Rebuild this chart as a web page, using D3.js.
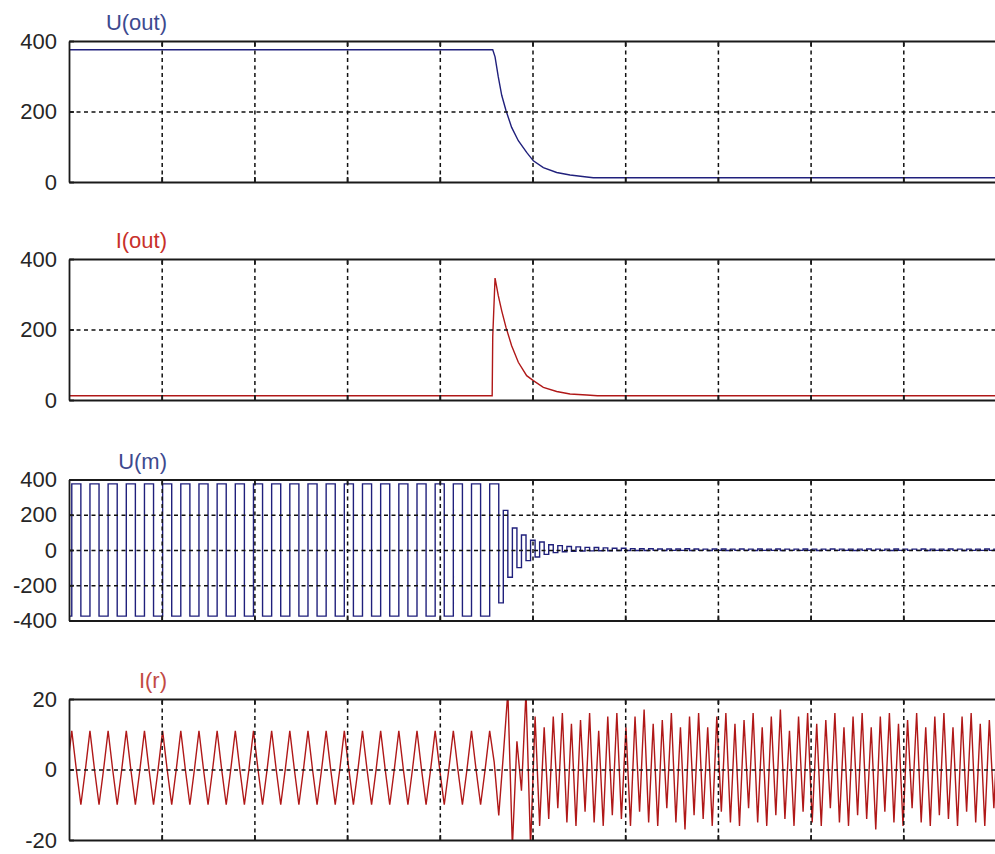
<!DOCTYPE html>
<html>
<head>
<meta charset="utf-8">
<script src="https://cdn.jsdelivr.net/npm/d3@7"></script>
<style>
  body { margin: 0; background: #fff; }
  svg { display: block; }
</style>
</head>
<body>
<script>
let width = 995
let height = 854
let left = 69
let right = 996
const panelTops = [41, 259, 479.5, 699]
const panelHeight = 141

const blue = '#20207c'
const red = '#b01818'

// scope traces, time axis in grid divisions (0..10)
const titles = ['U(out)', 'I(out)', 'U(m)', 'I(r)']
const xGrid = [1, 2, 3, 4, 5, 6, 7, 8, 9]

const uoutTicks = [0, 200, 400]
const ioutTicks = [0, 200, 400]
const umTicks = [-400, -200, 0, 200, 400]
const irTicks = [-20, 0, 20]

const uoutTime = [0, 4.571, 4.596, 4.631, 4.668, 4.714, 4.775, 4.847, 4.937, 5.009, 5.117, 5.261, 5.405, 5.585, 5.656, 10]
const uoutValue = [375, 375, 355, 298, 246, 203, 155, 117, 84, 60, 41, 27, 20, 14, 12, 12]

const ioutTime = [0, 4.565, 4.571, 4.596, 4.631, 4.668, 4.714, 4.775, 4.847, 4.937, 5.009, 5.117, 5.261, 5.405, 5.585, 5.7, 10]
const ioutValue = [12, 12, 179, 346, 296, 253, 206, 154, 107, 69, 55, 36, 24, 17, 14, 12, 12]

// U(m) and I(r) are sampled at a fixed step
const sampleStart = -0.019
const sampleStep = 0.049

const umValues = [
  -375, 375, 375, -375, -375, 375, 375, -375,
  -375, 375, 375, -375, -375, 375, 375, -375,
  -375, 375, 375, -375, -375, 375, 375, -375,
  -375, 375, 375, -375, -375, 375, 375, -375,
  -375, 375, 375, -375, -375, 375, 375, -375,
  -375, 375, 375, -375, -375, 375, 375, -375,
  -375, 375, 375, -375, -375, 375, 375, -375,
  -375, 375, 375, -375, -375, 375, 375, -375,
  -375, 375, 375, -375, -375, 375, 375, -375,
  -375, 375, 375, -375, -375, 375, 375, -375,
  -375, 375, 375, -375, -375, 375, 375, -375,
  -375, 375, 375, -375, -375, 375, 375,
  -300, 225, -155, 125, -100, 85, -60, 55, -40, 45, -25, 30, -15, 25, -10, 20,
  -8, 18, -6, 15, -5, 14, -4, 12, -4, 10, -3, 10, -3, 8,
  -3, 7, -3, 7, -2, 6, -3, 6, -2, 6, -2, 7,
  -3, 6, -2, 5, -3, 6, -2, 6, -3, 5, -2, 6,
  -2, 5, -3, 6, -2, 5, -2, 6, -3, 5, -2, 5,
  -2, 6, -2, 5, -3, 5, -2, 6, -2, 5, -2, 5,
  -3, 5, -2, 6, -2, 5, -2, 5, -3, 6, -2, 5,
  -2, 5, -2, 6, -3, 5, -2, 5, -2, 6, -2, 5,
  -3, 5, -2, 5, -2, 6, -2, 5, -2
]

const irValues = [
  0, 11, 0, -10, 0, 11, 0, -10,
  0, 11, 0, -10, 0, 11, 0, -10,
  0, 11, 0, -10, 0, 11, 0, -10,
  0, 11, 0, -10, 0, 11, 0, -10,
  0, 11, 0, -10, 0, 11, 0, -10,
  0, 11, 0, -10, 0, 11, 0, -10,
  0, 11, 0, -10, 0, 11, 0, -10,
  0, 11, 0, -10, 0, 11, 0, -10,
  0, 11, 0, -10, 0, 11, 0, -10,
  0, 11, 0, -10, 0, 11, 0, -10,
  0, 11, 0, -10, 0, 11, 0, -10,
  0, 11, 0, -10, 0, 11,
  2, -13, 4, 22, -22, 8, -6, 22, -22, 15,
  -16, 12, -14, 15, -11, 16, -15, 13, -16, 14, -12, 16,
  -15, 11, -16, 15, -13, 16, -14, 12, -16, 15, -12, 17,
  -15, 13, -16, 14, -11, 16, -15, 12, -17, 15, -13, 16,
  -14, 12, -16, 15, -12, 16, -15, 13, -16, 14, -11, 16,
  -15, 12, -16, 15, -13, 17, -14, 11, -16, 15, -12, 16,
  -15, 13, -16, 14, -11, 16, -15, 12, -16, 15, -13, 16,
  -14, 12, -17, 15, -12, 16, -15, 13, -16, 14, -11, 16,
  -15, 12, -16, 15, -13, 16, -14, 12, -16, 15, -12, 16,
  -15, 13, -16, 14, -11, 16
]

const sampled = (values) => values.map((v, i) => [sampleStart + i * sampleStep, v])

const panels = [
  {title: titles[0], domain: [0, 400], ticks: uoutTicks, grid: [200], points: d3.zip(uoutTime, uoutValue), color: blue, titleColor: '#3d4a8f', curve: d3.curveLinear},
  {title: titles[1], domain: [0, 400], ticks: ioutTicks, grid: [200], points: d3.zip(ioutTime, ioutValue), color: red, titleColor: '#c8302a', curve: d3.curveLinear},
  {title: titles[2], domain: [-400, 400], ticks: umTicks, grid: [-200, 0, 200], points: sampled(umValues), color: blue, titleColor: '#3d4a8f', curve: d3.curveStepAfter},
  {title: titles[3], domain: [-20, 20], ticks: irTicks, grid: [0], points: sampled(irValues), color: red, titleColor: '#c24a45', curve: d3.curveLinear}
]

const svg = d3.select('body').append('svg').attr('width', width).attr('height', height)
svg.append('rect').attr('width', width).attr('height', height).attr('fill', '#fff')

const x = d3.scaleLinear().domain([0, 10]).range([left, right])

panels.forEach((p, n) => {
  let top = panelTops[n]
  let bottom = top + panelHeight
  const y = d3.scaleLinear().domain(p.domain).range([bottom, top])
  const g = svg.append('g')

  g.append('clipPath').attr('id', 'clip' + n)
    .append('rect').attr('x', left).attr('y', top).attr('width', right - left).attr('height', panelHeight)

  g.append('path')
    .datum(p.points)
    .attr('clip-path', `url(#clip${n})`)
    .attr('fill', 'none')
    .attr('stroke', p.color)
    .attr('stroke-width', 1.4)
    .attr('d', d3.line().x(d => x(d[0])).y(d => y(d[1])).curve(p.curve))

  // dashed grid on top of the trace
  g.append('g')
    .attr('class', 'grid')
    .attr('transform', `translate(0,${bottom})`)
    .call(d3.axisBottom(x).tickValues(xGrid).tickSize(-panelHeight).tickFormat(''))
    .call(a => a.select('.domain').remove())
  g.append('g')
    .attr('class', 'grid')
    .attr('transform', `translate(${left},0)`)
    .call(d3.axisLeft(y).tickValues(p.grid).tickSize(-(right - left)).tickFormat(''))
    .call(a => a.select('.domain').remove())
  g.selectAll('.grid line').attr('stroke', '#111').attr('stroke-width', 1.5).attr('stroke-dasharray', '4,3.5')

  // frame with inward ticks
  g.append('g').attr('class', 'frame').attr('transform', `translate(0,${bottom})`)
    .call(d3.axisBottom(x).tickValues(xGrid).tickSizeInner(-5).tickSizeOuter(0).tickFormat(''))
  g.append('g').attr('class', 'frame').attr('transform', `translate(0,${top})`)
    .call(d3.axisTop(x).tickValues(xGrid).tickSizeInner(-5).tickSizeOuter(0).tickFormat(''))
  g.append('g').attr('class', 'frame').attr('transform', `translate(${left},0)`)
    .call(d3.axisLeft(y).tickValues(p.ticks).tickSizeInner(-5).tickSizeOuter(0).tickPadding(12).tickFormat(d => String(d)))
  g.selectAll('.frame .domain').attr('stroke', '#1a1a1a').attr('stroke-width', 1.8)
  g.selectAll('.frame line').attr('stroke', '#1a1a1a').attr('stroke-width', 1.8)
  g.selectAll('.frame text')
    .attr('fill', '#262626')
    .style('font-family', 'Liberation Sans, Arial, sans-serif')
    .style('font-size', '22px')

  g.append('text')
    .text(p.title)
    .attr('x', 167)
    .attr('y', top - 11)
    .attr('text-anchor', 'end')
    .attr('fill', p.titleColor)
    .style('font-family', 'Liberation Sans, Arial, sans-serif')
    .style('font-size', '22px')
})
</script>
</body>
</html>
